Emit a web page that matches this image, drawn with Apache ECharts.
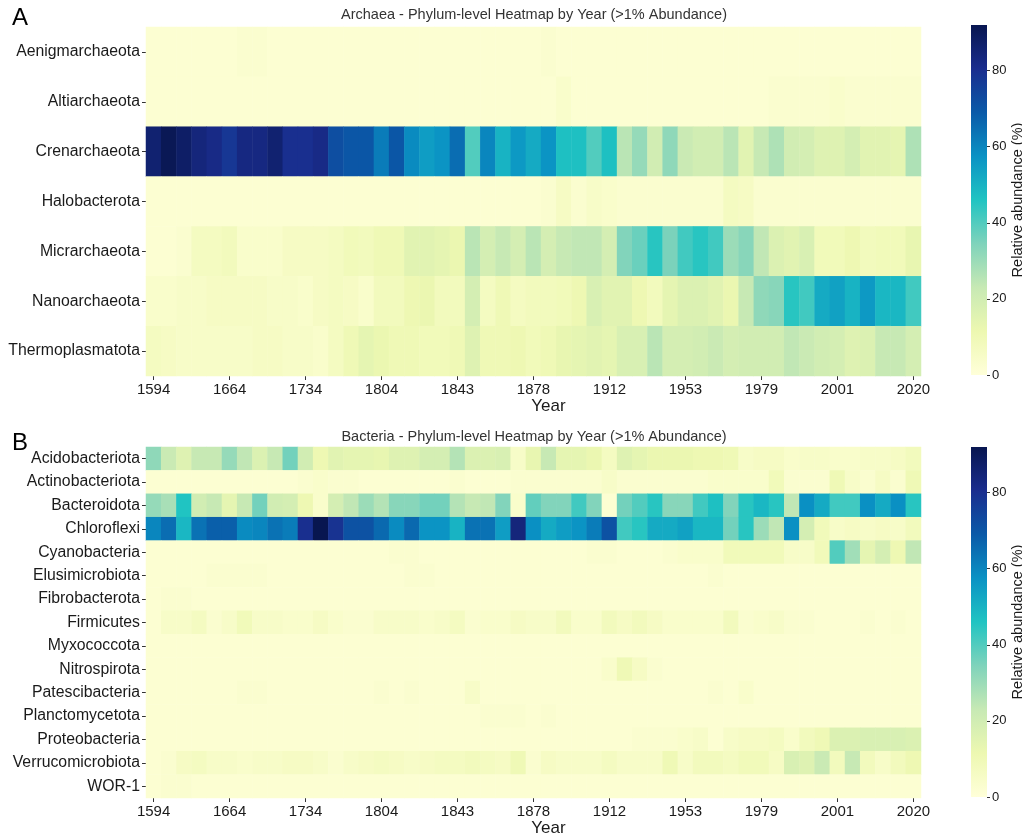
<!DOCTYPE html>
<html>
<head>
<meta charset="utf-8">
<script src="https://cdn.jsdelivr.net/npm/echarts@6/dist/echarts.min.js"></script>
<style>
html,body{margin:0;padding:0;background:#fff;}
#chart{width:1022px;height:838px;}
</style>
</head>
<body>
<div id="chart"></div>
<script>
// ---- categories ----
const years = ['1594','1608','1622','1636','1650','1664','1678','1692','1706','1720',
  '1734','1748','1762','1776','1790','1804','1812','1820','1828','1836',
  '1843','1850','1857','1864','1871','1878','1885','1892','1899','1905',
  '1912','1920','1928','1937','1945','1953','1958','1963','1969','1974',
  '1979','1983','1988','1992','1997','2001','2005','2009','2012','2016','2020'];
const archaeaPhyla = ['Aenigmarchaeota','Altiarchaeota','Crenarchaeota','Halobacterota','Micrarchaeota','Nanoarchaeota','Thermoplasmatota'];
const bacteriaPhyla = ['Acidobacteriota','Actinobacteriota','Bacteroidota','Chloroflexi','Cyanobacteria','Elusimicrobiota','Fibrobacterota','Firmicutes','Myxococcota','Nitrospirota','Patescibacteria','Planctomycetota','Proteobacteria','Verrucomicrobiota','WOR-1'];
const colorbarTicks = [0,20,40,60,80];

// ---- archaea values (relative abundance %) ----
const aenigmarchaeota = [2,2,2,2,2,2,3,3,2,2,2,2,2,2,2,2,2,2,2,2,2,2,2,2,2,2,3,2,2,2,2,2,2,2,2,2,2,2,2,2,2,2,2,2,2,2,2,2,2,2,2];
const altiarchaeota   = [2,2,2,2,2,2,2,2,2,2,2,2,2,2,2,2,2,2,2,2,2,2,2,2,2,2,2,4,2,2,2,2,2,2,2,2,2,2,2,2,2,3,3,3,3,4,3,3,3,3,3];
const crenarchaeota   = [86,91,88,84,82,78,83,83,86,80,80,82,72,70,70,62,70,59,55,57,65,40,60,50,56,52,57,47,47,40,47,25,31,20,32,22,20,20,25,15,23,27,20,19,16,16,19,15,15,14,27];
const halobacterota   = [2,2,2,2,2,2,2,2,2,2,2,2,2,2,2,2,2,2,2,2,2,2,2,2,2,2,3,6,3,5,4,3,3,3,3,3,3,3,7,6,3,3,3,3,3,3,3,3,3,3,3];
const micrarchaeota   = [2,2,3,7,7,8,4,4,4,6,6,6,7,9,8,10,10,15,15,14,12,25,19,23,19,25,19,23,24,24,19,34,37,45,35,42,45,42,30,33,24,17,15,18,9,9,11,8,9,9,13];
const nanoarchaeota   = [4,4,5,5,6,6,6,6,5,5,4,6,7,6,4,8,8,11,12,8,8,19,7,10,7,8,8,9,11,18,15,15,11,8,14,17,17,15,12,23,32,33,45,42,52,54,50,56,49,49,42];
const thermoplasmatota= [7,6,5,5,5,5,5,6,6,5,5,4,7,10,14,12,10,10,9,9,10,16,10,10,11,9,10,13,14,15,14,18,18,25,19,19,20,22,19,20,20,20,24,22,20,19,16,17,23,23,19];

// ---- bacteria values (relative abundance %) ----
const acidobacteriota = [32,22,16,23,23,31,24,17,23,36,20,11,15,14,14,13,16,16,19,19,26,17,17,18,5,13,23,14,14,12,7,16,14,12,12,12,11,11,10,5,6,6,4,5,5,4,4,5,5,6,8];
const actinobacteriota= [2,2,2,2,2,2,2,2,2,2,3,4,3,3,2,2,2,2,2,2,3,2,2,2,3,3,3,3,3,3,5,3,3,3,3,3,3,4,4,4,4,9,3,3,3,10,5,3,6,3,10];
const bacteroidota    = [31,28,46,20,23,14,23,36,20,19,11,4,19,24,30,26,33,33,36,36,26,23,24,34,4,38,34,34,42,34,2,36,40,45,33,33,42,47,34,45,49,45,24,58,52,42,42,58,52,58,45];
const chloroflexi     = [60,65,49,64,68,68,59,60,64,62,80,92,79,71,71,66,59,66,57,57,50,64,64,55,84,58,52,55,57,62,71,42,45,52,52,54,49,49,36,45,30,24,58,19,9,5,6,5,6,5,8];
const cyanobacteria   = [2,2,2,2,2,2,2,2,2,2,2,2,2,2,2,2,3,3,2,2,2,2,2,2,2,2,2,2,2,3,3,2,2,2,3,4,4,4,9,9,9,9,5,5,9,40,29,14,19,11,24];
const elusimicrobiota = [2,2,2,2,3,3,3,3,2,2,2,2,2,2,2,2,2,3,3,2,2,2,2,2,2,2,2,2,2,2,2,2,2,2,2,2,2,3,2,2,2,2,2,2,2,2,2,2,2,2,2];
const fibrobacterota  = [2,3,3,2,2,2,2,2,2,2,2,2,2,2,2,2,2,2,2,2,2,2,2,2,2,2,2,2,2,2,2,2,2,2,2,2,2,2,2,2,2,2,2,2,2,2,2,2,2,2,2];
const firmicutes      = [2,5,5,7,3,5,9,5,5,4,4,6,4,3,3,5,5,5,4,5,7,3,4,4,6,5,5,8,4,4,8,6,8,6,4,4,4,4,8,3,4,5,3,3,2,2,2,3,2,3,2];
const myxococcota     = [2,2,2,2,2,2,2,2,2,2,2,2,2,2,2,2,2,2,2,2,2,2,2,2,2,2,2,2,2,2,2,2,2,2,2,2,2,2,2,2,2,2,2,2,2,2,2,2,2,2,2];
const nitrospirota    = [2,2,2,2,2,2,2,2,2,2,2,2,2,2,2,2,2,2,2,2,2,2,2,2,2,2,2,2,2,2,4,10,6,3,2,2,2,2,2,2,2,2,2,2,2,2,2,2,2,2,2];
const patescibacteria = [2,2,2,2,2,2,3,3,2,2,2,2,2,2,2,3,2,3,2,2,2,5,2,2,2,2,2,2,2,2,2,2,2,2,2,2,2,3,2,4,2,2,2,2,2,2,2,2,2,2,2];
const planctomycetota = [2,2,2,2,2,2,2,2,2,2,2,2,2,2,2,2,2,2,2,2,2,2,3,3,3,2,3,2,2,2,2,2,2,2,2,2,2,2,2,2,2,2,2,2,2,2,2,2,2,2,2];
const proteobacteria  = [2,2,2,2,2,2,2,2,2,2,2,2,2,2,2,2,2,2,2,2,2,2,2,2,2,2,2,2,2,2,2,2,3,3,3,4,5,2,5,6,6,7,4,8,10,17,17,18,18,18,17];
const verrucomicrobiota=[2,3,6,7,5,5,4,5,5,6,6,5,3,5,6,7,6,5,6,7,7,8,7,6,10,3,6,5,5,5,7,5,5,5,10,5,8,8,7,9,9,6,18,16,22,8,23,8,5,8,11];
const wor1            = [2,3,3,2,2,2,2,2,2,2,2,2,2,2,2,2,2,2,2,2,2,2,2,2,2,2,2,2,2,2,2,2,2,2,2,2,2,2,2,2,2,2,2,2,2,2,2,2,2,2,2];

const archaeaRows = [aenigmarchaeota,altiarchaeota,crenarchaeota,halobacterota,micrarchaeota,nanoarchaeota,thermoplasmatota];
const bacteriaRows = [acidobacteriota,actinobacteriota,bacteroidota,chloroflexi,cyanobacteria,elusimicrobiota,fibrobacterota,firmicutes,myxococcota,nitrospirota,patescibacteria,planctomycetota,proteobacteria,verrucomicrobiota,wor1];

function toCells(rows){
  const out=[];
  rows.forEach((r,i)=>r.forEach((v,j)=>out.push([j,i,v])));
  return out;
}

// YlGnBu-like palette as it appears in the figure
const palette = ['#ffffd9','#edf8b1','#c7e9b4','#7fd3bb','#20c4c2','#0a92c4','#0a5aa8','#1a2d8e','#081650'];
const vmax = 92;
const gradStops = palette.map((c,i)=>({offset:i/(palette.length-1), color:c}));

const FONT = 'Liberation Sans, Arial, sans-serif';
const TXT = '#1a1a1a';

function heatXAxis(gi){
  return {
    type:'category', gridIndex:gi, data:years,
    axisLine:{show:false},
    axisTick:{show:true, interval:4, alignWithLabel:true, length:4, lineStyle:{color:'#333'}},
    axisLabel:{interval:4, color:TXT, fontSize:15, fontFamily:FONT, margin:6},
    splitLine:{show:false},
    name:'Year', nameLocation:'middle', nameGap:22,
    nameTextStyle:{color:TXT, fontSize:17, fontFamily:FONT, padding:[0,0,0,30]}
  };
}
function heatYAxis(gi, cats){
  return {
    type:'category', gridIndex:gi, data:cats, inverse:true,
    axisLine:{show:false},
    axisTick:{show:true, length:4, alignWithLabel:true, lineStyle:{color:'#333'}},
    axisLabel:{color:TXT, fontSize:15.8, fontFamily:FONT, margin:6},
    splitLine:{show:false}
  };
}
function cbYAxis(gi){
  return {
    type:'value', gridIndex:gi, min:0, max:vmax, position:'right',
    axisLine:{show:false},
    axisTick:{show:true, length:3, customValues:colorbarTicks, lineStyle:{color:'#333'}},
    axisLabel:{color:TXT, fontSize:13, fontFamily:FONT, margin:5, customValues:colorbarTicks},
    splitLine:{show:false},
    name:'Relative abundance (%)', nameLocation:'middle', nameRotate:90, nameGap:19,
    nameTextStyle:{color:TXT, fontSize:14.5, fontFamily:FONT}
  };
}
function cbXAxis(gi){
  return {type:'category', gridIndex:gi, data:['c'], show:false, boundaryGap:true};
}

const option = {
  animation:false,
  backgroundColor:'#fff',
  title:[
    {text:'Archaea - Phylum-level Heatmap by Year (>1% Abundance)', left:529, top:2, textAlign:'center',
      textStyle:{fontSize:14.5, fontWeight:'normal', color:'#333', fontFamily:FONT}},
    {text:'Bacteria - Phylum-level Heatmap by Year (>1% Abundance)', left:529, top:424, textAlign:'center',
      textStyle:{fontSize:14.5, fontWeight:'normal', color:'#333', fontFamily:FONT}},
    {text:'A', left:7, top:1, textStyle:{fontSize:24, fontWeight:'normal', color:'#000', fontFamily:FONT}},
    {text:'B', left:7, top:426, textStyle:{fontSize:24, fontWeight:'normal', color:'#000', fontFamily:FONT}}
  ],
  grid:[
    {left:146, top:27, width:775, height:349, outerBoundsMode:'none'},
    {left:146, top:447, width:775, height:351, outerBoundsMode:'none'},
    {left:971, top:25, width:16, height:350, outerBoundsMode:'none'},
    {left:971, top:447, width:16, height:350, outerBoundsMode:'none'}
  ],
  xAxis:[heatXAxis(0), heatXAxis(1), cbXAxis(2), cbXAxis(3)],
  yAxis:[heatYAxis(0, archaeaPhyla), heatYAxis(1, bacteriaPhyla), cbYAxis(2), cbYAxis(3)],
  visualMap:[
    {type:'continuous', show:false, min:0, max:vmax, seriesIndex:0, dimension:2, inRange:{color:palette}},
    {type:'continuous', show:false, min:0, max:vmax, seriesIndex:1, dimension:2, inRange:{color:palette}}
  ],
  series:[
    {type:'heatmap', xAxisIndex:0, yAxisIndex:0, data:toCells(archaeaRows), itemStyle:{borderWidth:0}, emphasis:{disabled:true}},
    {type:'heatmap', xAxisIndex:1, yAxisIndex:1, data:toCells(bacteriaRows), itemStyle:{borderWidth:0}, emphasis:{disabled:true}},
    {type:'bar', xAxisIndex:2, yAxisIndex:2, data:[vmax], barWidth:'100%', barCategoryGap:'0%', silent:true,
      itemStyle:{color:{type:'linear', x:0, y:1, x2:0, y2:0, colorStops:gradStops}}},
    {type:'bar', xAxisIndex:3, yAxisIndex:3, data:[vmax], barWidth:'100%', barCategoryGap:'0%', silent:true,
      itemStyle:{color:{type:'linear', x:0, y:1, x2:0, y2:0, colorStops:gradStops}}}
  ]
};

const chart = echarts.init(document.getElementById('chart'), null, {renderer:'canvas'});
chart.setOption(option);
</script>
</body>
</html>
